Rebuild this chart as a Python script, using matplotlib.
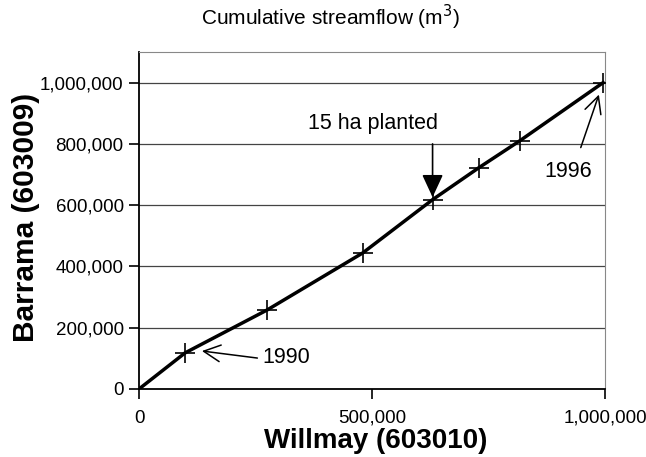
import matplotlib
matplotlib.use("Agg")
import matplotlib.pyplot as plt
from matplotlib.ticker import FuncFormatter

# cumulative streamflow (m3), one point per year 1990..1996
willmay = [0, 99000, 275000, 480000, 630000, 729000, 817000, 996000]
barrama = [0, 118000, 258000, 444000, 618000, 722000, 810000, 1000000]

x_ticks = [0, 500000, 1000000]
y_ticks = [0, 200000, 400000, 600000, 800000, 1000000]

plt.rcParams['font.family'] = ['Liberation Sans', 'DejaVu Sans']

fig = plt.figure(figsize=(6.46, 4.57), dpi=100)
ax = fig.add_axes([0.2152, 0.1488, 0.7213, 0.7374])

ax.plot(willmay, barrama, color='black', lw=2.5, zorder=3)
ax.plot(willmay[1:], barrama[1:], ls='none', marker='+', ms=14, mew=1.2,
        color='black', zorder=4)

ax.set_xlim(0, 1000000)
ax.set_ylim(0, 1100000)
ax.set_xticks(x_ticks)
ax.set_yticks(y_ticks)
fmt = FuncFormatter(lambda v, p: f"{int(v):,}")
ax.xaxis.set_major_formatter(fmt)
ax.yaxis.set_major_formatter(fmt)
ax.tick_params(direction='out', length=7, width=1.2, labelsize=13.5, pad=4)
ax.tick_params(axis='x', pad=8)

for y in y_ticks[1:]:
    ax.axhline(y, color='#444444', lw=0.9, zorder=1)

ax.spines['left'].set_color('black')
ax.spines['left'].set_linewidth(1.3)
ax.spines['bottom'].set_color('black')
ax.spines['bottom'].set_linewidth(1.3)
ax.spines['top'].set_color('#888888')
ax.spines['right'].set_color('#888888')

fig.text(0.581, 0.036, "Willmay (603010)", fontsize=20, fontweight='bold',
         ha='center', va='center')
fig.text(0.040, 0.525, "Barrama (603009)", fontsize=21.5, fontweight='bold',
         ha='center', va='center', rotation=90)
fig.text(0.512, 0.962, "Cumulative streamflow (m$^3$)", fontsize=15,
         ha='center', va='center')

# annotations
ax.annotate("", xy=(630000, 626000), xytext=(630000, 800000),
            arrowprops=dict(arrowstyle='-|>,head_width=0.65,head_length=1.4',
                            mutation_scale=10, color='black', lw=1.2,
                            shrinkA=0, shrinkB=0), zorder=5)
ax.text(503000, 866000, "15 ha planted", fontsize=15.5, ha='center', va='center')

ax.annotate("", xy=(135000, 124000), xytext=(254000, 101000),
            arrowprops=dict(arrowstyle='->,head_width=0.6,head_length=1.2',
                            mutation_scale=10, color='black', lw=1.1,
                            shrinkA=0, shrinkB=0))
ax.text(265000, 104000, "1990", fontsize=15.5, ha='left', va='center')

ax.annotate("", xy=(987000, 961000), xytext=(948000, 788000),
            arrowprops=dict(arrowstyle='->,head_width=0.6,head_length=1.2',
                            mutation_scale=10, color='black', lw=1.1,
                            shrinkA=0, shrinkB=0))
ax.text(972000, 709000, "1996", fontsize=15.5, ha='right', va='center')

fig.savefig("out.png", dpi=100)
